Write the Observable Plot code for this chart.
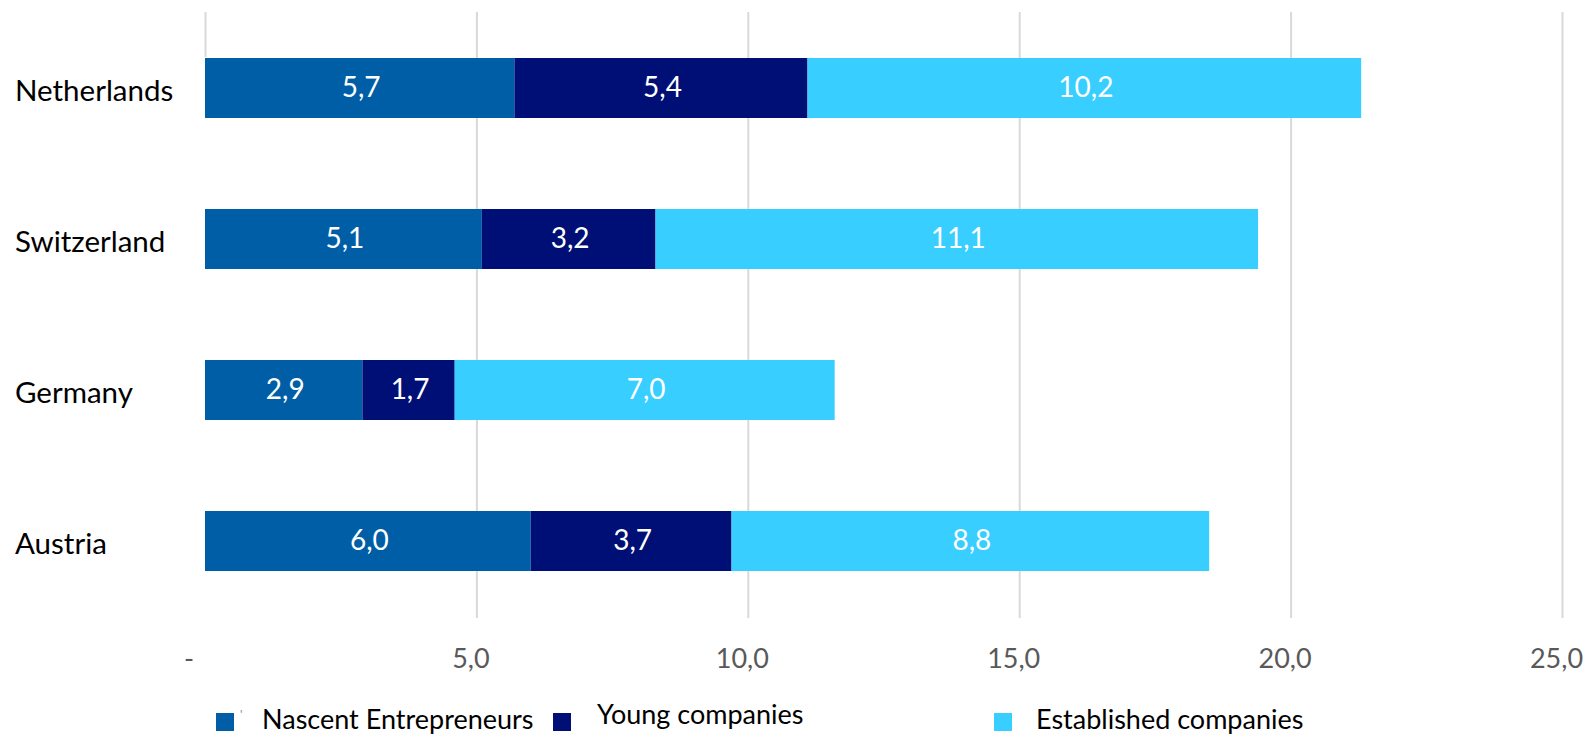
<!DOCTYPE html>
<html>
<head>
<meta charset="utf-8">
<script src="https://cdn.jsdelivr.net/npm/d3@7"></script>
<script src="https://cdn.jsdelivr.net/npm/@observablehq/plot@0.6"></script>
<style>
  html, body { margin: 0; padding: 0; background: #fff; overflow: hidden; }
  #wrap { position: relative; width: 1589px; height: 735px; font-family: Lato, "Open Sans", sans-serif; }
  #chart svg { max-width: none !important; display: block; }
  #legend { position: absolute; left: 0; top: 680px; width: 1589px; height: 55px; }
  .sw { position: absolute; width: 18px; height: 18px; top: 33px; }
  .lt { position: absolute; font-size: 27px; color: #000; line-height: 32px; white-space: nowrap; }
  .apos { position: absolute; left: 240px; top: 27px; font-size: 12px; line-height: 14px; color: #888; }
</style>
</head>
<body>
<div id="wrap">
  <div id="chart"></div>
  <div id="legend"><span class="apos">'</span></div>
</div>
<script>
const countries = ["Netherlands", "Switzerland", "Germany", "Austria"];
const seriesNames = ["Nascent Entrepreneurs", "Young companies", "Established companies"];
const nascent = [5.7, 5.1, 2.9, 6.0];
const young = [5.4, 3.2, 1.7, 3.7];
const established = [10.2, 11.1, 7.0, 8.8];
const xTicks = [0, 5, 10, 15, 20, 25];
const colors = ["#005EA6", "#000F75", "#38CEFF"];

const seriesValues = [nascent, young, established];
const data = [];
countries.forEach((c, i) => {
  seriesNames.forEach((s, j) => data.push({country: c, series: s, value: seriesValues[j][i]}));
});

const fmt = d => d.toFixed(1).replace(".", ",");
const tickFmt = d => d === 0 ? "-\u00a0\u00a0\u00a0" : fmt(d);

const chart = Plot.plot({
  width: 1589,
  height: 680,
  marginLeft: 205,
  marginRight: 27,
  marginTop: 11,
  marginBottom: 62,
  style: {fontFamily: "Lato, 'Open Sans', sans-serif", background: "#fff"},
  x: {domain: [0, 25], ticks: xTicks, tickFormat: tickFmt},
  y: {domain: countries, paddingInner: 0.6, paddingOuter: 0.3, label: null},
  color: {domain: seriesNames, range: colors},
  marks: [
    Plot.ruleX(xTicks.filter(d => d > 0), {stroke: "#d9d9d9", strokeWidth: 2, insetTop: 1}),
    Plot.ruleX([0], {stroke: "#d9d9d9", strokeWidth: 2, insetTop: 1, insetBottom: 561}),
    Plot.barX(data, Plot.stackX({x: "value", y: "country", fill: "series", order: null})),
    Plot.text(data, Plot.stackX({x: "value", y: "country", order: null, text: d => fmt(d.value), fill: "white", fontSize: 28, dx: 1})),
    Plot.axisX({ticks: xTicks, tickSize: 0, tickPadding: 30, fontSize: 27, color: "#595959", label: null,
      dx: -6, tickFormat: tickFmt}),
    Plot.axisY({tickSize: 0, textAnchor: "start", dx: -181.5, dy: 3, fontSize: 29.5, color: "#000", label: null})
  ]
});
document.getElementById("chart").appendChild(chart);

const legend = document.getElementById("legend");
const swX = [216, 553, 994];
const txX = [262, 597, 1036];
// baseline targets: 730, 725, 730 (page coords) -> line box tops inside legend
const txTop = [23, 18, 23];
seriesNames.forEach((s, j) => {
  const sw = document.createElement("div");
  sw.className = "sw";
  sw.style.left = swX[j] + "px";
  sw.style.background = colors[j];
  legend.appendChild(sw);
  const t = document.createElement("div");
  t.className = "lt";
  t.style.left = txX[j] + "px";
  t.style.top = txTop[j] + "px";
  t.textContent = s;
  legend.appendChild(t);
});
</script>
</body>
</html>
